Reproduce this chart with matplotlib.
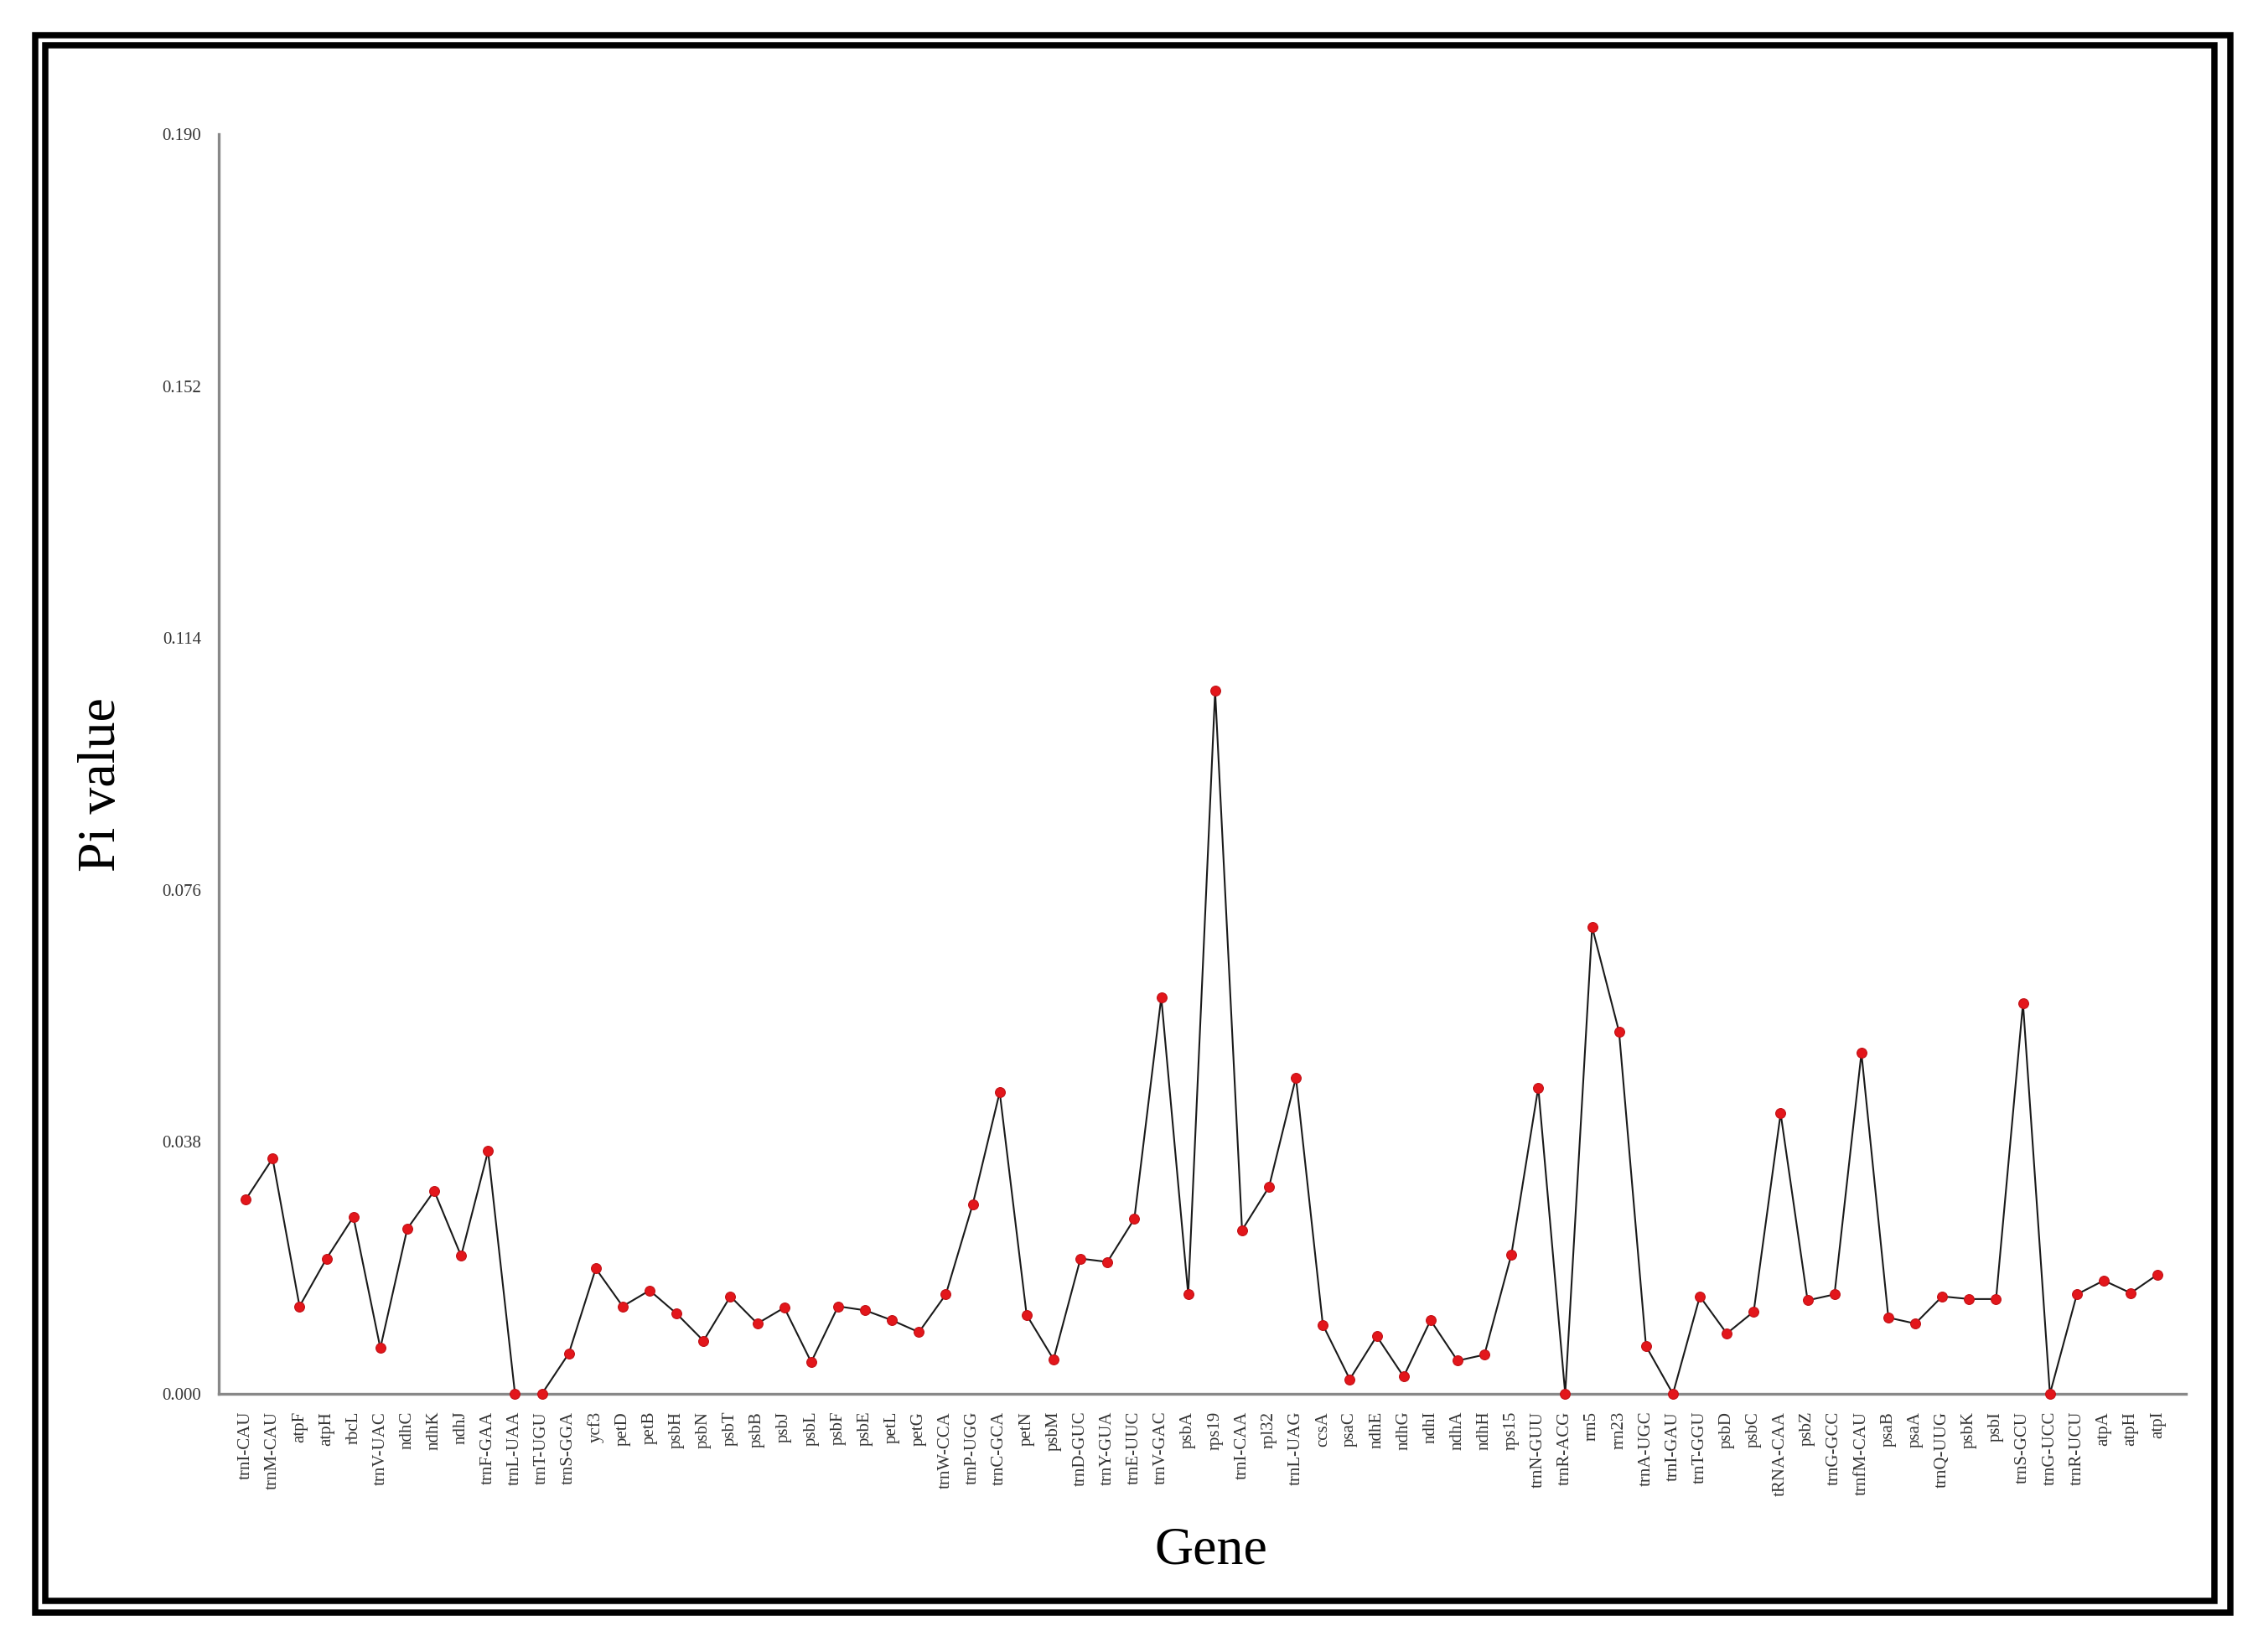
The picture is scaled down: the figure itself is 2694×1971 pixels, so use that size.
import matplotlib
matplotlib.use("Agg")
import matplotlib.pyplot as plt
from matplotlib.patches import Rectangle

genes = ["trnI-CAU", "trnM-CAU", "atpF", "atpH", "rbcL", "trnV-UAC", "ndhC", "ndhK",
         "ndhJ", "trnF-GAA", "trnL-UAA", "trnT-UGU", "trnS-GGA", "ycf3", "petD", "petB",
         "psbH", "psbN", "psbT", "psbB", "psbJ", "psbL", "psbF", "psbE", "petL", "petG",
         "trnW-CCA", "trnP-UGG", "trnC-GCA", "petN", "psbM", "trnD-GUC", "trnY-GUA",
         "trnE-UUC", "trnV-GAC", "psbA", "rps19", "trnI-CAA", "rpl32", "trnL-UAG", "ccsA",
         "psaC", "ndhE", "ndhG", "ndhI", "ndhA", "ndhH", "rps15", "trnN-GUU", "trnR-ACG",
         "rrn5", "rrn23", "trnA-UGC", "trnI-GAU", "trnT-GGU", "psbD", "psbC", "tRNA-CAA",
         "psbZ", "trnG-GCC", "trnfM-CAU", "psaB", "psaA", "trnQ-UUG", "psbK", "psbI",
         "trnS-GCU", "trnG-UCC", "trnR-UCU", "atpA", "atpH", "atpI"]

pi_values = [0.0293, 0.0355, 0.0132, 0.0204, 0.0267, 0.0069, 0.0249, 0.0306,
             0.0208, 0.0366, 0.0, 0.0, 0.0061, 0.0189, 0.0132, 0.0156,
             0.0121, 0.0080, 0.0147, 0.0106, 0.0130, 0.0048, 0.0132, 0.0126, 0.0111, 0.0093,
             0.0150, 0.0286, 0.0455, 0.0119, 0.0052, 0.0204, 0.0199,
             0.0264, 0.0598, 0.0150, 0.1060, 0.0247, 0.0312, 0.0477, 0.0104,
             0.0022, 0.0087, 0.0026, 0.0111, 0.0050, 0.0059, 0.0210, 0.0462, 0.0,
             0.0704, 0.0546, 0.0072, 0.0, 0.0147, 0.0091, 0.0124, 0.0423,
             0.0141, 0.0150, 0.0514, 0.0115, 0.0106, 0.0147, 0.0143, 0.0143,
             0.0589, 0.0, 0.0150, 0.0171, 0.0152, 0.0180]

yticks = [0.000, 0.038, 0.076, 0.114, 0.152, 0.190]

W, H = 2694, 1971
fig = plt.figure(figsize=(W / 100, H / 100), dpi=100)
serif = ["Liberation Serif", "DejaVu Serif"]

# double frame
def frame(l, t, r, b, lw_px):
    fig.patches.append(Rectangle((l / W, 1 - b / H), (r - l) / W, (b - t) / H,
                                 transform=fig.transFigure, fill=False,
                                 edgecolor="black", linewidth=lw_px * 0.72, zorder=10))
frame(41.5, 42, 2660.5, 1923.5, 7.5)
frame(53.5, 54, 2642, 1909.5, 7.5)

ax = fig.add_axes([261 / W, 1 - 1663 / H, (2608 - 261) / W, (1663 - 160) / H])
x = list(range(1, len(genes) + 1))
ax.plot(x, pi_values, color="#1a1a1a", linewidth=1.5, zorder=2, clip_on=False)
ax.plot(x, pi_values, linestyle="none", marker="o", markersize=8.5,
        markerfacecolor="#e3161b", markeredgecolor="#c01015", markeredgewidth=0.8,
        zorder=3, clip_on=False)

ax.set_xlim(0, 73.05)
ax.set_ylim(0, 0.19)
ax.set_yticks(yticks)
ax.set_yticklabels([f"{v:.3f}" for v in yticks], fontfamily=serif, fontsize=15, color="#333333")
ax.set_xticks(x)
ax.set_xticklabels(genes, rotation=90, fontfamily=serif, fontsize=15, color="#333333")
ax.tick_params(axis="both", length=0)
ax.tick_params(axis="y", pad=15)
ax.tick_params(axis="x", pad=15)

for s in ["top", "right"]:
    ax.spines[s].set_visible(False)
for s in ["left", "bottom"]:
    ax.spines[s].set_color("#888888")
    ax.spines[s].set_linewidth(2.4)

fig.text(122 / W, 1 - 936 / H, "Pi value", rotation=90, ha="center", va="center",
         fontfamily=serif, fontsize=46)
fig.text(1445 / W, 1 - 1850 / H, "Gene", ha="center", va="center",
         fontfamily=serif, fontsize=46)

fig.savefig("out.png", dpi=100, facecolor="white")
